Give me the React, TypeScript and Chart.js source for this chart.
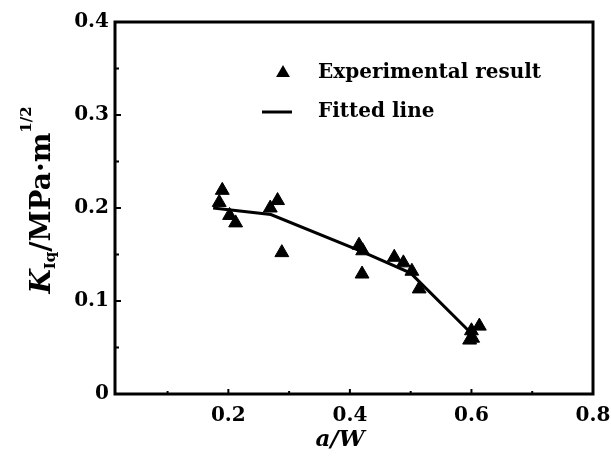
import React, { useEffect, useRef } from "react";
import { Chart, registerables } from "chart.js";

Chart.register(...registerables);

// Experimental results (a/W, K_Iq)
const expX = [0.19, 0.185, 0.202, 0.212, 0.281, 0.269, 0.288, 0.415, 0.421, 0.42, 0.473, 0.488, 0.502, 0.514, 0.6, 0.602, 0.613, 0.597];
const expY = [0.219, 0.206, 0.192, 0.184, 0.208, 0.2, 0.152, 0.16, 0.154, 0.129, 0.147, 0.141, 0.132, 0.113, 0.068, 0.06, 0.073, 0.058];

// Fitted line
const fitX = [0.175, 0.27, 0.42, 0.5, 0.6];
const fitY = [0.2, 0.193, 0.153, 0.13, 0.065];

// Axis ticks
const xTicks = [0.2, 0.4, 0.6, 0.8];
const xMinorTicks = [0.1, 0.3, 0.5, 0.7];
const yTicks = [0, 0.1, 0.2, 0.3, 0.4];
const yMinorTicks = [0.05, 0.15, 0.25, 0.35];

const legendLabels = ["Experimental result", "Fitted line"];
const xTitle = "a/W";

const SERIF = "'DejaVu Serif', 'Liberation Serif', serif";

const framePlugin = {
  id: "framePlugin",
  afterDraw(chart: any) {
    const { ctx, chartArea } = chart;
    const { left, right, top, bottom } = chartArea;
    const xs = chart.scales.x;
    const ys = chart.scales.y;
    ctx.save();
    ctx.strokeStyle = "#000";
    ctx.lineWidth = 3;
    ctx.strokeRect(left, top, right - left, bottom - top);

    // inward ticks
    ctx.lineWidth = 2;
    ctx.beginPath();
    yTicks.forEach((v) => {
      const p = ys.getPixelForValue(v);
      ctx.moveTo(left, p);
      ctx.lineTo(left + 6, p);
    });
    yMinorTicks.forEach((v) => {
      const p = ys.getPixelForValue(v);
      ctx.moveTo(left, p);
      ctx.lineTo(left + 4, p);
    });
    xTicks.forEach((v) => {
      const p = xs.getPixelForValue(v);
      ctx.moveTo(p, bottom);
      ctx.lineTo(p, bottom - 5);
    });
    xMinorTicks.forEach((v) => {
      const p = xs.getPixelForValue(v);
      ctx.moveTo(p, bottom);
      ctx.lineTo(p, bottom - 3);
    });
    ctx.stroke();

    ctx.fillStyle = "#000";
    // Legend
    const lx = 283;
    const ly1 = 73;
    const ly2 = 112;
    const r = 8;
    ctx.beginPath();
    ctx.moveTo(lx, ly1 - r);
    ctx.lineTo(lx + r * 0.866, ly1 + r * 0.5);
    ctx.lineTo(lx - r * 0.866, ly1 + r * 0.5);
    ctx.closePath();
    ctx.fill();
    ctx.lineWidth = 3;
    ctx.beginPath();
    ctx.moveTo(262, ly2);
    ctx.lineTo(292, ly2);
    ctx.stroke();
    ctx.font = `bold 20px ${SERIF}`;
    ctx.textAlign = "left";
    ctx.textBaseline = "middle";
    ctx.fillText(legendLabels[0], 318, ly1);
    ctx.fillText(legendLabels[1], 318, ly2);

    // X title
    ctx.font = `italic bold 23px ${SERIF}`;
    ctx.textAlign = "center";
    ctx.textBaseline = "middle";
    ctx.fillText(xTitle, 340, 440);

    // Y title (rotated)
    ctx.translate(50, 200);
    ctx.rotate(-Math.PI / 2);
    ctx.textAlign = "left";
    ctx.textBaseline = "alphabetic";
    const parts = [
      { t: "K", f: `italic bold 28px ${SERIF}`, dy: 0 },
      { t: "Iq", f: `bold 15px ${SERIF}`, dy: 5 },
      { t: "/MPa·m", f: `bold 28px ${SERIF}`, dy: 0 },
      { t: "1/2", f: `bold 15px ${SERIF}`, dy: -19 },
    ];
    let total = 0;
    parts.forEach((p) => {
      ctx.font = p.f;
      total += ctx.measureText(p.t).width;
    });
    let x = -total / 2;
    parts.forEach((p) => {
      ctx.font = p.f;
      ctx.fillText(p.t, x, p.dy);
      x += ctx.measureText(p.t).width;
    });
    ctx.restore();
  },
};

export default function App() {
  const canvasRef = useRef<HTMLCanvasElement | null>(null);

  useEffect(() => {
    if (!canvasRef.current) return;
    const chart = new Chart(canvasRef.current, {
      type: "scatter",
      data: {
        datasets: [
          {
            label: legendLabels[0],
            data: expX.map((x, i) => ({ x, y: expY[i] })),
            pointStyle: "triangle",
            pointRadius: 8,
            backgroundColor: "#000",
            borderColor: "#000",
            borderWidth: 1,
            showLine: false,
          },
          {
            label: legendLabels[1],
            data: fitX.map((x, i) => ({ x, y: fitY[i] })),
            showLine: true,
            pointRadius: 0,
            borderColor: "#000",
            borderWidth: 3,
            backgroundColor: "#000",
          },
        ],
      },
      options: {
        animation: false,
        responsive: true,
        maintainAspectRatio: false,
        layout: { padding: { top: 22, right: 18, left: 0, bottom: 0 } },
        plugins: {
          legend: { display: false },
          tooltip: { enabled: false },
          title: { display: false },
        },
        scales: {
          x: {
            type: "linear",
            min: 0.0135,
            max: 0.8,
            grid: { display: false, drawTicks: false },
            border: { display: false },
            ticks: {
              color: "#000",
              padding: 10,
              font: { family: SERIF, size: 20, weight: "bold" },
              callback: (v: any) => Number(v).toFixed(1),
            },
            afterBuildTicks: (s: any) => {
              s.ticks = xTicks.map((v) => ({ value: v }));
            },
            afterFit: (s: any) => {
              s.height = 65;
              s.paddingRight = 0;
              s.paddingLeft = 0;
            },
          },
          y: {
            type: "linear",
            min: 0,
            max: 0.4,
            grid: { display: false, drawTicks: false },
            border: { display: false },
            ticks: {
              color: "#000",
              padding: 6,
              font: { family: SERIF, size: 20, weight: "bold" },
              callback: (v: any) => (Number(v) === 0 ? "0" : Number(v).toFixed(1)),
            },
            afterBuildTicks: (s: any) => {
              s.ticks = yTicks.map((v) => ({ value: v }));
            },
            afterFit: (s: any) => {
              s.width = 115;
              s.paddingTop = 0;
              s.paddingBottom = 0;
            },
          },
        },
      } as any,
      plugins: [framePlugin],
    });
    return () => chart.destroy();
  }, []);

  return (
    <div style={{ position: "fixed", left: 0, top: 0, width: 611, height: 459, background: "#fff" }}>
      <canvas ref={canvasRef} />
    </div>
  );
}
